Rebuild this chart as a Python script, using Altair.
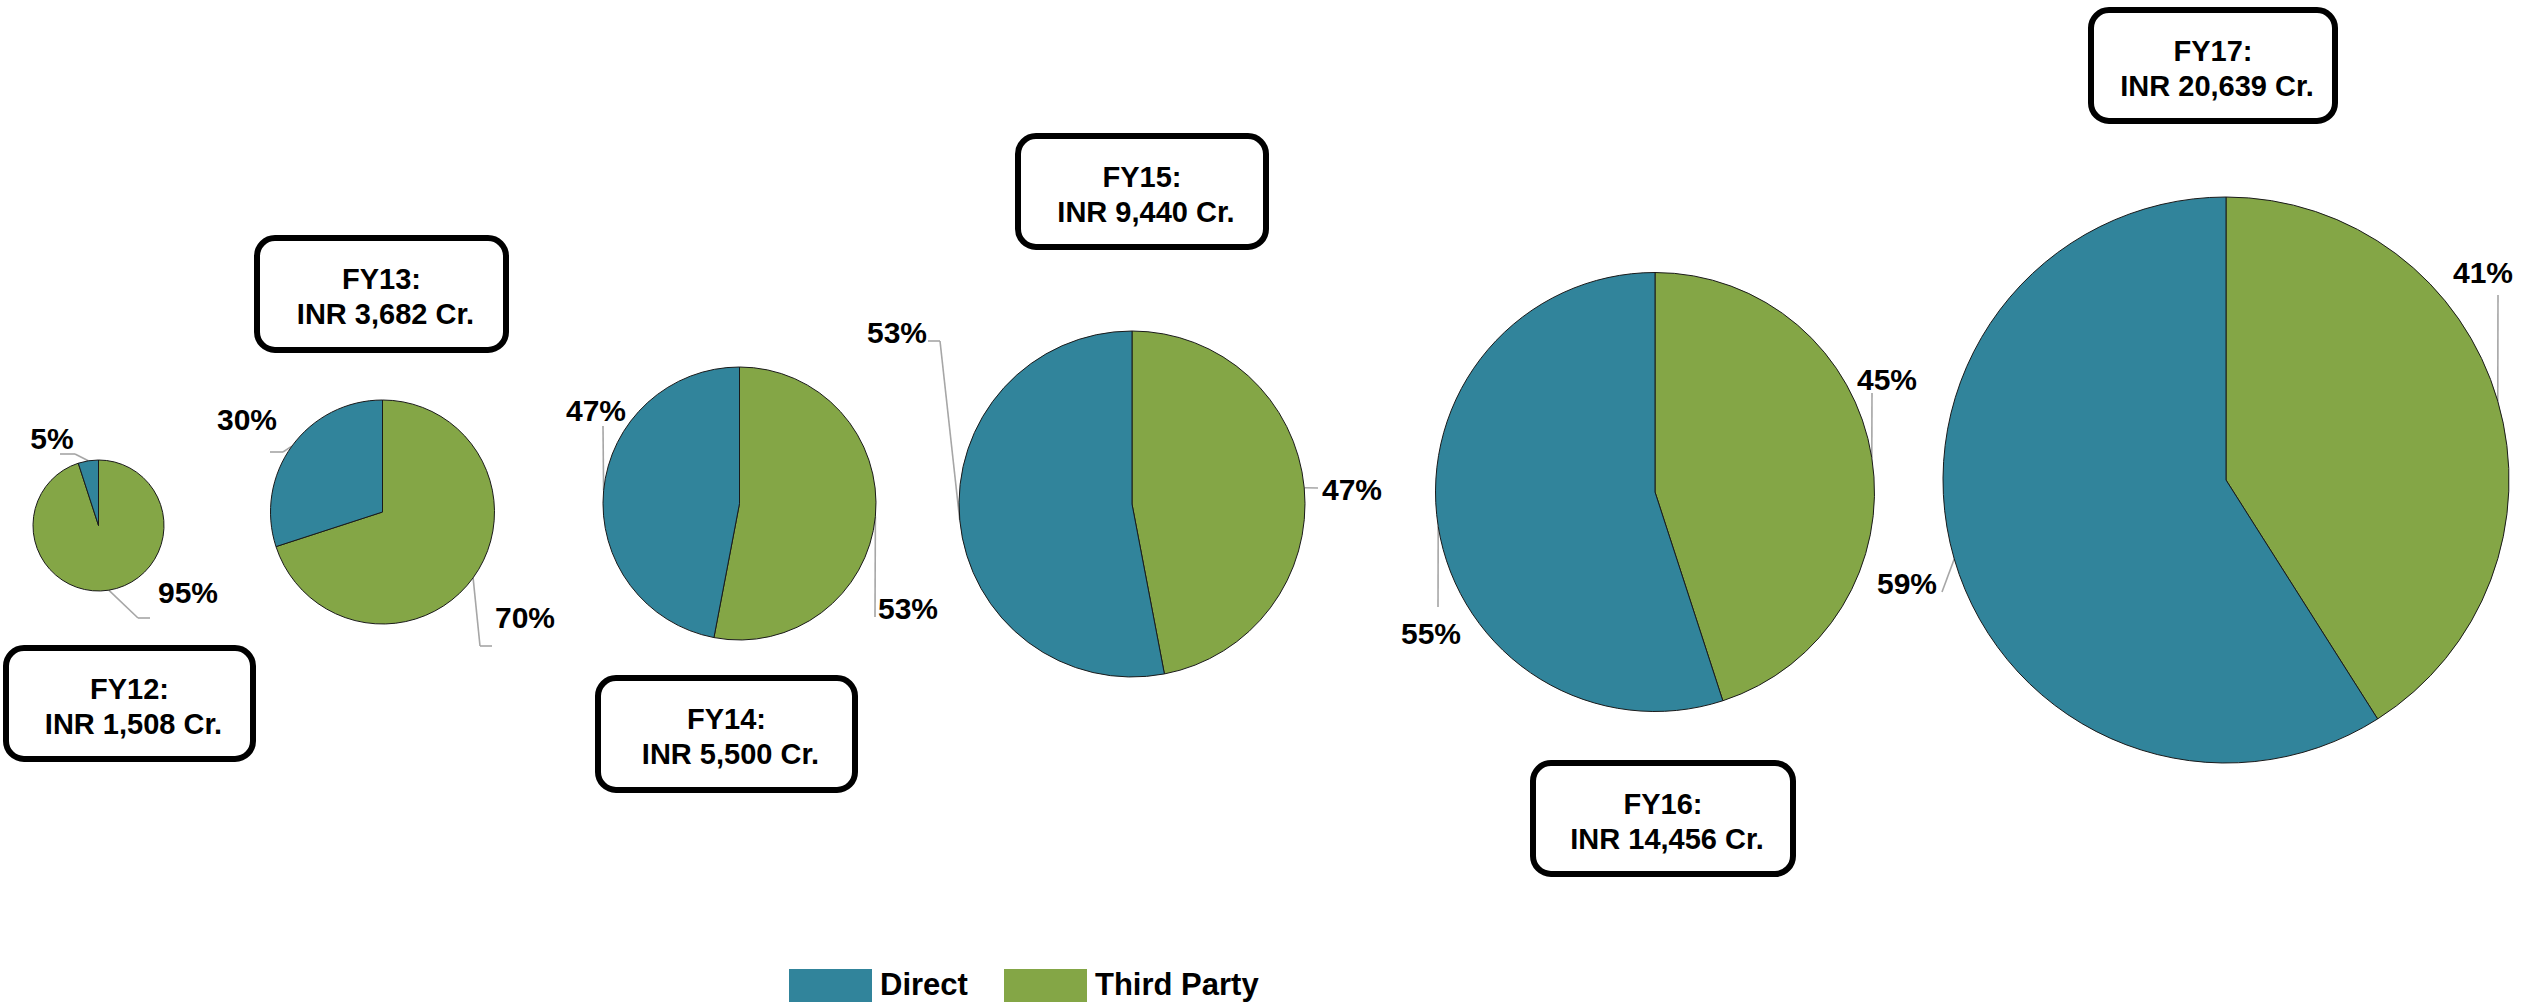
import math

import altair as alt
import pandas as pd

# Annual sales (INR crore) and the split between direct and third-party channels
years = ["FY12", "FY13", "FY14", "FY15", "FY16", "FY17"]
totals_cr = [1508, 3682, 5500, 9440, 14456, 20639]
direct_pct = [5, 30, 47, 53, 55, 59]
third_party_pct = [95, 70, 53, 47, 45, 41]
segments = ["Direct", "Third Party"]
segment_colors = ["#31849B", "#84A646"]

W, H = 2526, 1002
FONT = "Liberation Sans"
LABEL_SIZE = 30
BOX_SIZE = 29
LEGEND_SIZE = 31

# Pie placement: centre x, centre y, outer radius (px)
pie_layout = {
    "FY12": (98.5, 525.5, 65.5),
    "FY13": (382.5, 512, 112),
    "FY14": (739.5, 503.5, 136.5),
    "FY15": (1132, 504, 173),
    "FY16": (1655, 492, 219.5),
    "FY17": (2226, 480, 283),
}

# Callout boxes with the yearly total: left, top, right, bottom (outer edge)
box_layout = {
    "FY12": (3, 645, 256, 762),
    "FY13": (254, 235, 509, 353),
    "FY14": (595, 675, 858, 793),
    "FY15": (1015, 133, 1269, 250),
    "FY16": (1530, 760, 1796, 877),
    "FY17": (2088, 7, 2338, 124),
}
# Offsets (dx, dy) of the two text lines' cap centres from the box centre
box_line_offsets = ((0, -16), (4, 19))

# Percentage labels: text centre and the bend points of the leader line,
# which starts on the rim at the middle of its slice
label_layout = {
    ("FY12", "Direct"): ((52, 438), [(75, 454), (60, 454)]),
    ("FY12", "Third Party"): ((188, 592), [(138, 618), (150, 618)]),
    ("FY13", "Direct"): ((247, 419), [(283, 452), (270, 452)]),
    ("FY13", "Third Party"): ((525, 617), [(480, 646), (492, 646)]),
    ("FY14", "Direct"): ((596, 410), [(603, 426)]),
    ("FY14", "Third Party"): ((908, 608), [(875, 617)]),
    ("FY15", "Direct"): ((897, 332), [(940, 341), (928, 341)]),
    ("FY15", "Third Party"): ((1352, 489), [(1318, 488)]),
    ("FY16", "Direct"): ((1431, 633), [(1438, 607)]),
    ("FY16", "Third Party"): ((1887, 379), [(1872, 393)]),
    ("FY17", "Direct"): ((1907, 583), [(1942, 592)]),
    ("FY17", "Third Party"): ((2483, 272), [(2498, 295)]),
}

# Legend swatches (left, right) and label x, along one row at the bottom
legend_layout = {
    "Direct": (789, 872, 880),
    "Third Party": (1004, 1087, 1095),
}
legend_top, legend_bottom, legend_text_y = 969, 1002, 986

# ---- tables -------------------------------------------------------------
slice_rows, leader_rows, label_rows = [], [], []
for yr, d, tp in zip(years, direct_pct, third_party_pct):
    cx, cy, r = pie_layout[yr]
    # Third Party runs clockwise from 12 o'clock, Direct fills the rest
    for seg, pct, start in (("Third Party", tp, 0), ("Direct", d, tp)):
        end = start + pct
        slice_rows.append(dict(year=yr, segment=seg, pct=pct, start=start, end=end,
                               cx=cx, cy=cy, r=r))
        mid = (start + end) / 2 / 100 * 2 * math.pi
        pts = [(cx + r * math.sin(mid), cy - r * math.cos(mid))]
        (tx, ty), bends = label_layout[(yr, seg)]
        pts += bends
        for (x1, y1), (x2, y2) in zip(pts[:-1], pts[1:]):
            leader_rows.append(dict(x=x1, y=y1, x2=x2, y2=y2))
        label_rows.append(dict(x=tx, y=ty + 2, text=f"{pct}%"))

slices = pd.DataFrame(slice_rows)
leaders = pd.DataFrame(leader_rows)
pct_labels = pd.DataFrame(label_rows)

box_rows, box_text_rows = [], []
for yr, total in zip(years, totals_cr):
    x1, y1, x2, y2 = box_layout[yr]
    box_rows.append(dict(x=x1 + 3, x2=x2 - 3, y=y1 + 3, y2=y2 - 3))
    cx, cy = (x1 + x2) / 2, (y1 + y2) / 2
    for line, (dx, dy) in zip([f"{yr}:", f"INR {total:,} Cr."], box_line_offsets):
        box_text_rows.append(dict(x=cx + dx, y=cy + dy + 2, text=line))
boxes = pd.DataFrame(box_rows)
box_texts = pd.DataFrame(box_text_rows)

legend_df = pd.DataFrame([
    dict(segment=s, x=legend_layout[s][0], x2=legend_layout[s][1],
         tx=legend_layout[s][2], y=legend_top, y2=legend_bottom, ty=legend_text_y)
    for s in segments
])

# ---- marks --------------------------------------------------------------
color = alt.Color("segment:N", scale=alt.Scale(domain=segments, range=segment_colors),
                  legend=None)

leader_layer = alt.Chart(leaders).mark_rule(color="#A6A6A6", strokeWidth=1.6).encode(
    x=alt.X("x:Q", scale=None, axis=None),
    y=alt.Y("y:Q", scale=None, axis=None),
    x2="x2:Q",
    y2="y2:Q",
)

pie_layer = alt.Chart(slices).mark_arc(stroke="#1a1a1a", strokeWidth=1).encode(
    x=alt.X("cx:Q", scale=None, axis=None),
    y=alt.Y("cy:Q", scale=None, axis=None),
    radius=alt.Radius("r:Q", scale=None),
    theta=alt.Theta("start:Q", scale=alt.Scale(domain=[0, 100], range=[0, 2 * math.pi]),
                    stack=False),
    theta2="end:Q",
    color=color,
)

pct_layer = alt.Chart(pct_labels).mark_text(
    font=FONT, fontSize=LABEL_SIZE, fontWeight="bold", color="black",
    align="center", baseline="middle",
).encode(
    x=alt.X("x:Q", scale=None, axis=None),
    y=alt.Y("y:Q", scale=None, axis=None),
    text="text:N",
)

box_layer = alt.Chart(boxes).mark_rect(
    fill="white", stroke="black", strokeWidth=6, cornerRadius=18,
).encode(
    x=alt.X("x:Q", scale=None, axis=None),
    y=alt.Y("y:Q", scale=None, axis=None),
    x2="x2:Q",
    y2="y2:Q",
)

box_text_layer = alt.Chart(box_texts).mark_text(
    font=FONT, fontSize=BOX_SIZE, fontWeight="bold", color="black",
    align="center", baseline="middle",
).encode(
    x=alt.X("x:Q", scale=None, axis=None),
    y=alt.Y("y:Q", scale=None, axis=None),
    text="text:N",
)

legend_rect_layer = alt.Chart(legend_df).mark_rect().encode(
    x=alt.X("x:Q", scale=None, axis=None),
    y=alt.Y("y:Q", scale=None, axis=None),
    x2="x2:Q",
    y2="y2:Q",
    color=color,
)

legend_text_layer = alt.Chart(legend_df).mark_text(
    font=FONT, fontSize=LEGEND_SIZE, fontWeight="bold", color="black",
    align="left", baseline="middle",
).encode(
    x=alt.X("tx:Q", scale=None, axis=None),
    y=alt.Y("ty:Q", scale=None, axis=None),
    text="segment:N",
)

chart = alt.layer(
    leader_layer, pie_layer, pct_layer, box_layer, box_text_layer,
    legend_rect_layer, legend_text_layer,
).properties(
    width=W, height=H, padding=0, background="white",
    autosize=alt.AutoSizeParams(type="none"),
).configure_view(stroke=None)

chart.save("out.html", embed_options={"renderer": "svg", "actions": False})
